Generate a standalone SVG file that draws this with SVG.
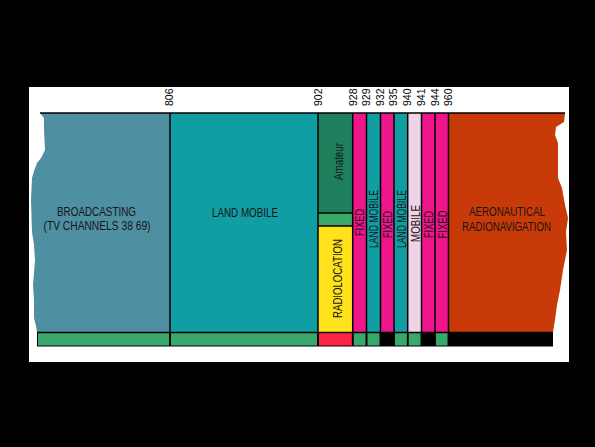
<svg xmlns="http://www.w3.org/2000/svg" width="595" height="447" viewBox="0 0 595 447">
<style>
.t{font-family:"Liberation Sans",Arial,sans-serif;font-size:12.5px;fill:#151515;text-anchor:middle;lengthAdjust:spacingAndGlyphs}
.f{font-family:"Liberation Sans",Arial,sans-serif;font-size:10.5px;fill:#000}
.sep{stroke:#000;stroke-width:1.5;fill:none}
.g{fill:#39a96b}
.pk{fill:#ef168c}
.lm{fill:#119ea3}
</style>
<rect x="0" y="0" width="595" height="447" fill="#000"/>
<rect x="29" y="87" width="540" height="275" fill="#fff"/>

<g id="broadcasting">
<polygon points="40,113 44,118 44,130 45,150 41,158 37,163 34,171 32,178 31,200 32,232 34,245 35,260 33,285 34,300 34,318 36,326 37,332 170,332 170,113" fill="#4f8fa2"/>
<text class="t" x="96.5" y="216" textLength="79" lengthAdjust="spacingAndGlyphs">BROADCASTING</text>
<text class="t" x="97" y="230" textLength="107" lengthAdjust="spacingAndGlyphs">(TV CHANNELS 38 69)</text>
</g>

<g id="land-mobile">
<rect x="170" y="113" width="148" height="219" class="lm"/>
<text class="t" x="245" y="217" textLength="66" lengthAdjust="spacingAndGlyphs">LAND MOBILE</text>
</g>

<g id="amateur">
<rect x="318" y="113" width="34.7" height="100" fill="#1d7f5c"/>
<rect x="318" y="213" width="34.7" height="13" class="g"/>
<text class="t" transform="translate(343,161.5) rotate(-90)" textLength="37" lengthAdjust="spacingAndGlyphs">Amateur</text>
</g>

<g id="radiolocation">
<rect x="318" y="226" width="34.7" height="106" fill="#ffe21c"/>
<text class="t" transform="translate(341.7,278.5) rotate(-90)" textLength="79" lengthAdjust="spacingAndGlyphs">RADIOLOCATION</text>
</g>

<g id="fixed-928">
<rect x="352.7" y="113" width="13.8" height="219" class="pk"/>
<text class="t" transform="translate(364,222.5) rotate(-90)" textLength="27" lengthAdjust="spacingAndGlyphs">FIXED</text>
</g>

<g id="land-mobile-929">
<rect x="366.5" y="113" width="14" height="219" class="lm"/>
<text class="t" transform="translate(378,219) rotate(-90)" textLength="58" lengthAdjust="spacingAndGlyphs">LAND MOBILE</text>
</g>

<g id="fixed-932">
<rect x="380.5" y="113" width="13.5" height="219" class="pk"/>
<text class="t" transform="translate(391.7,224.5) rotate(-90)" textLength="27" lengthAdjust="spacingAndGlyphs">FIXED</text>
</g>

<g id="land-mobile-935">
<rect x="394" y="113" width="13.7" height="219" class="lm"/>
<text class="t" transform="translate(405.5,219) rotate(-90)" textLength="58" lengthAdjust="spacingAndGlyphs">LAND MOBILE</text>
</g>

<g id="mobile-940">
<rect x="407.7" y="113" width="13.8" height="219" fill="#f1d3e8"/>
<text class="t" transform="translate(419.5,223.5) rotate(-90)" textLength="37" lengthAdjust="spacingAndGlyphs">MOBILE</text>
</g>

<g id="fixed-941">
<rect x="421.5" y="113" width="13.5" height="219" class="pk"/>
<text class="t" transform="translate(432.7,224.5) rotate(-90)" textLength="27" lengthAdjust="spacingAndGlyphs">FIXED</text>
</g>

<g id="fixed-944">
<rect x="435" y="113" width="13.5" height="219" class="pk"/>
<text class="t" transform="translate(446.5,224.5) rotate(-90)" textLength="28" lengthAdjust="spacingAndGlyphs">FIXED</text>
</g>

<g id="aeronautical">
<polygon points="448.5,113 565,113 564,122 556,127 555,135 558,143 558,178 562,188 565,205 568,218 566,232 567,250 563,270 560,290 557,305 555,320 553,332 448.5,332" fill="#c83b08"/>
<text class="t" x="507" y="216" textLength="76" lengthAdjust="spacingAndGlyphs">AERONAUTICAL</text>
<text class="t" x="506.5" y="231" textLength="89" lengthAdjust="spacingAndGlyphs">RADIONAVIGATION</text>
</g>

<g id="status-strip">
<rect x="37" y="332" width="516" height="14.5" fill="#000"/>
<rect x="38" y="333" width="131.2" height="12.5" class="g"/>
<rect x="170.8" y="333" width="146.4" height="12.5" class="g"/>
<rect x="318.8" y="333" width="33.1" height="12.5" fill="#ff2446"/>
<rect x="353.5" y="333" width="12.2" height="12.5" class="g"/>
<rect x="367.3" y="333" width="12.4" height="12.5" class="g"/>
<rect x="394.8" y="333" width="12.1" height="12.5" class="g"/>
<rect x="408.5" y="333" width="12.2" height="12.5" class="g"/>
<rect x="435.8" y="333" width="11.9" height="12.5" class="g"/>
</g>

<g id="dividers">
<line class="sep" x1="40" y1="113" x2="565" y2="113"/>
<line class="sep" x1="37" y1="332.5" x2="553" y2="332.5"/>
<line class="sep" x1="170" y1="113" x2="170" y2="346"/>
<line class="sep" x1="318" y1="113" x2="318" y2="346"/>
<line class="sep" x1="352.7" y1="113" x2="352.7" y2="346"/>
<line class="sep" x1="366.5" y1="113" x2="366.5" y2="346"/>
<line class="sep" x1="380.5" y1="113" x2="380.5" y2="346"/>
<line class="sep" x1="394" y1="113" x2="394" y2="346"/>
<line class="sep" x1="407.7" y1="113" x2="407.7" y2="346"/>
<line class="sep" x1="421.5" y1="113" x2="421.5" y2="346"/>
<line class="sep" x1="435" y1="113" x2="435" y2="346"/>
<line class="sep" x1="448.5" y1="113" x2="448.5" y2="346"/>
<line class="sep" x1="318" y1="213" x2="352.7" y2="213"/>
<line class="sep" x1="318" y1="226" x2="352.7" y2="226"/>
</g>

<g id="frequency-labels">
<text class="f" transform="translate(172.8,106) rotate(-90)">806</text>
<text class="f" transform="translate(322.3,106) rotate(-90)">902</text>
<text class="f" transform="translate(357,106) rotate(-90)">928</text>
<text class="f" transform="translate(369.8,106) rotate(-90)">929</text>
<text class="f" transform="translate(383.5,106) rotate(-90)">932</text>
<text class="f" transform="translate(396.8,106) rotate(-90)">935</text>
<text class="f" transform="translate(410.8,106) rotate(-90)">940</text>
<text class="f" transform="translate(424.8,106) rotate(-90)">941</text>
<text class="f" transform="translate(438.5,106) rotate(-90)">944</text>
<text class="f" transform="translate(452,106) rotate(-90)">960</text>
</g>
</svg>
